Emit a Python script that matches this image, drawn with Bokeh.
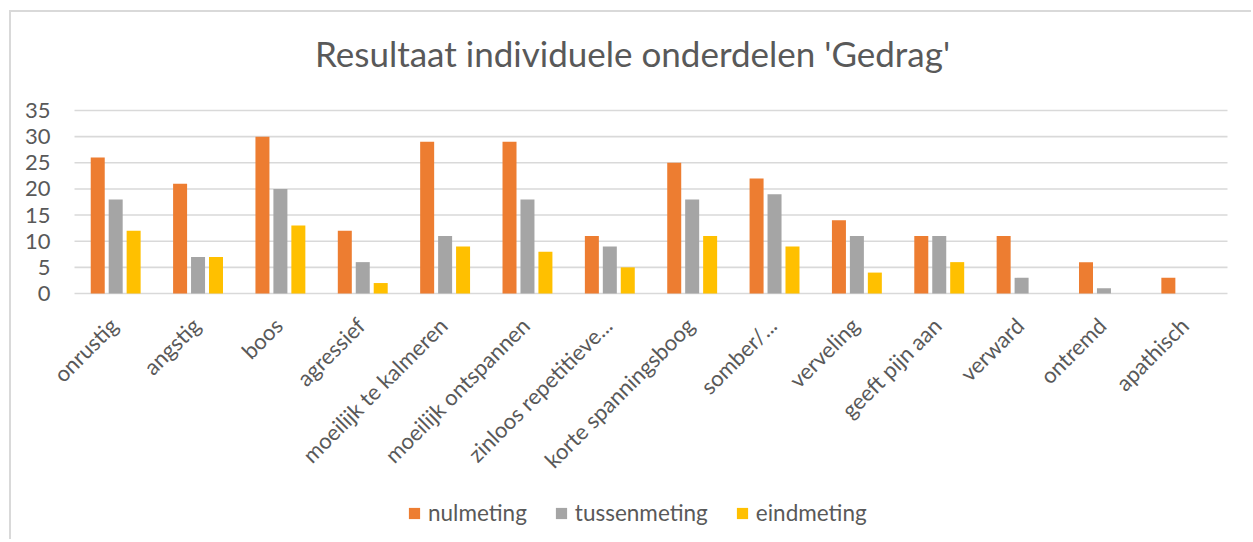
import math
from bokeh.plotting import figure
from bokeh.models import (Range1d, FixedTicker, Legend, LegendItem, Label,
                          ColumnDataSource)
from bokeh.core.properties import value
from bokeh.embed import file_html
from bokeh.resources import INLINE

# ---- data ----
categories = ["onrustig", "angstig", "boos", "agressief", "moeilijk te kalmeren",
              "moeilijk ontspannen", "zinloos repetitieve...", "korte spanningsboog",
              "somber/...", "verveling", "geeft pijn aan", "verward", "ontremd",
              "apathisch"]
nulmeting = [26, 21, 30, 12, 29, 29, 11, 25, 22, 14, 11, 11, 6, 3]
tussenmeting = [18, 7, 20, 6, 11, 18, 9, 18, 19, 11, 11, 3, 1, 0]
eindmeting = [12, 7, 13, 2, 9, 8, 5, 11, 9, 4, 6, 0, 0, 0]
series_names = ["nulmeting", "tussenmeting", "eindmeting"]
y_ticks = [0, 5, 10, 15, 20, 25, 30, 35]
title_text = "Resultaat individuele onderdelen 'Gedrag'"

# ---- styles / layout ----
colors = ["#ED7D31", "#A5A5A5", "#FFC000"]
FONT = "Lato"
TXT = "#595959"
GRID = "#d9d9d9"

W, H = 1242, 529
MB_LEFT, MB_RIGHT, MB_TOP, MB_BOTTOM = 43, 6, 0, 2
BAND_TOP_PX, BAND_H_PX = 98.0, 183.0     # value band (0..35) inside the frame
CAT_PAD = 0.243                          # extra frame space left/right, in category units
frame_h = H - MB_TOP - MB_BOTTOM
y_top_val = y_ticks[-1]
px_per_unit = BAND_H_PX / y_top_val
y_max = y_top_val + BAND_TOP_PX / px_per_unit
y_min = -(frame_h - BAND_TOP_PX - BAND_H_PX) / px_per_unit

n = len(categories)
xs = list(range(n))
series_values = {"nulmeting": nulmeting, "tussenmeting": tussenmeting, "eindmeting": eindmeting}

p = figure(x_range=Range1d(-0.5 - CAT_PAD, n - 0.5 + CAT_PAD), y_range=Range1d(y_min, y_max),
           width=W, height=H, output_backend="svg", toolbar_location=None, title=None,
           min_border_left=MB_LEFT, min_border_right=MB_RIGHT, min_border_top=MB_TOP,
           min_border_bottom=MB_BOTTOM)
p.styles = {"margin-left": "9px", "margin-top": "10px",
            "border-top": "2px solid #d9d9d9", "border-left": "2px solid #d9d9d9"}

p.outline_line_color = None
p.background_fill_color = "white"
p.border_fill_color = "white"
p.xgrid.grid_line_color = None
p.ygrid.grid_line_color = None

# horizontal gridlines spanning the category area only
p.segment(x0=[-0.5] * len(y_ticks), x1=[n - 0.5] * len(y_ticks), y0=y_ticks, y1=y_ticks,
          line_color=GRID, line_width=1.6)

offsets = [-0.218, 0.0, 0.218]
renderers = []
for name, col, off in zip(series_names, colors, offsets):
    src = ColumnDataSource(data=dict(x=[v + off for v in xs], top=series_values[name]))
    r = p.vbar(x="x", top="top", bottom=0, width=0.17, source=src,
               fill_color=col, line_color=None)
    renderers.append(r)

# category labels, rotated 45 degrees, hanging from the zero line
cat_src = ColumnDataSource(data=dict(x=xs, y=[0] * n, label=categories))
p.text(x="x", y="y", text="label", source=cat_src, angle=math.pi / 4,
       x_offset=-2, y_offset=28, text_align="right", text_baseline="middle",
       text_font=value(FONT), text_font_size=value("22px"), text_color=TXT)

p.yaxis.ticker = FixedTicker(ticks=y_ticks)
p.yaxis.axis_line_color = None
p.yaxis.major_tick_line_color = None
p.yaxis.minor_tick_line_color = None
p.yaxis.major_tick_out = 0
p.yaxis.major_label_standoff = 4
p.yaxis.major_label_text_font = FONT
p.yaxis.major_label_text_font_size = "22px"
p.yaxis.major_label_text_color = TXT

p.xaxis.visible = False

title = Label(x=578, y=487, x_units="screen", y_units="screen", text=title_text,
              text_align="center", text_baseline="middle", text_font=FONT,
              text_font_size="35px", text_color=TXT)
p.add_layout(title)

legend = Legend(items=[LegendItem(label=nm, renderers=[r]) for nm, r in zip(series_names, renderers)],
                orientation="horizontal", location=(353, 13),
                label_text_font=FONT, label_text_font_size="22.5px", label_text_color=TXT,
                glyph_width=14, glyph_height=14, label_standoff=7, spacing=27,
                background_fill_alpha=0, border_line_color=None, padding=0, margin=0)
p.add_layout(legend, "center")

open("out.html", "w").write(file_html(p, INLINE))
